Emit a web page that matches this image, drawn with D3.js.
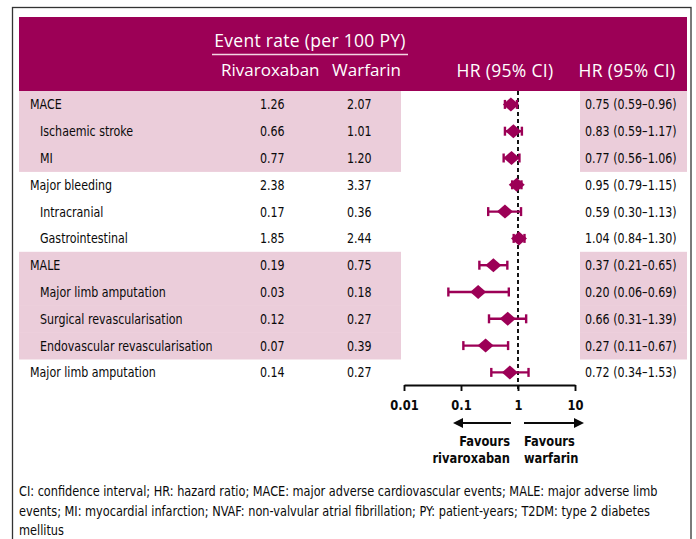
<!DOCTYPE html>
<html>
<head>
<meta charset="utf-8">
<script src="https://cdn.jsdelivr.net/npm/d3@7"></script>
<style>
  html, body { margin: 0; padding: 0; background: #fff; }
  svg { display: block; }
</style>
</head>
<body>
<svg id="chart" width="696" height="539"></svg>
<script>
// Outcome rows of the forest plot
const outcomes = [
  "MACE", "Ischaemic stroke", "MI",
  "Major bleeding", "Intracranial", "Gastrointestinal",
  "MALE", "Major limb amputation", "Surgical revascularisation", "Endovascular revascularisation",
  "Major limb amputation"
];
const indented = [false, true, true, false, true, true, false, true, true, true, false];
const shaded = [true, true, true, false, false, false, true, true, true, true, false];

// Event rates per 100 patient-years
const rivaroxabanRate = ["1.26", "0.66", "0.77", "2.38", "0.17", "1.85", "0.19", "0.03", "0.12", "0.07", "0.14"];
const warfarinRate    = ["2.07", "1.01", "1.20", "3.37", "0.36", "2.44", "0.75", "0.18", "0.27", "0.39", "0.27"];

// Hazard ratios with 95% confidence limits
const hr   = [0.75, 0.83, 0.77, 0.95, 0.59, 1.04, 0.37, 0.20, 0.66, 0.27, 0.72];
const ciLo = [0.59, 0.59, 0.56, 0.79, 0.30, 0.84, 0.21, 0.06, 0.31, 0.11, 0.34];
const ciHi = [0.96, 1.17, 1.06, 1.15, 1.13, 1.30, 0.65, 0.69, 1.39, 0.67, 1.53];

// Axis ticks
const tickValues = [0.01, 0.1, 1, 10];
const tickLabels = ["0.01", "0.1", "1", "10"];

const footnote = [
  "CI: confidence interval; HR: hazard ratio; MACE: major adverse cardiovascular events; MALE: major adverse limb",
  "events; MI: myocardial infarction; NVAF: non-valvular atrial fibrillation; PY: patient-years; T2DM: type 2 diabetes",
  "mellitus"
];

const MAGENTA = "#9c0056";
const PINK = "#ebcdda";
const INK = "#0a0a0a";
const FONT = "'DejaVu Sans Condensed', 'Liberation Sans Narrow', sans-serif";
const HEAD_FONT = "'Open Sans', 'Noto Sans', sans-serif";
const SX = 0.88; // horizontal squeeze for the condensed body face

const svg = d3.select("#chart").style("font-family", FONT);

// condensed text helper
function ctext(g, x, y, str, anchor = "start", sx = SX) {
  return g.append("text")
    .attr("transform", `translate(${x},${y}) scale(${sx},1)`)
    .attr("text-anchor", anchor)
    .text(str);
}

// frame
svg.append("rect").attr("x", 12.5).attr("y", 7.5).attr("width", 678.5).attr("height", 545)
  .attr("fill", "none").attr("stroke", "#333").attr("stroke-width", 1.3);

// header band
svg.append("rect").attr("x", 19).attr("y", 17).attr("width", 668).attr("height", 74).attr("fill", MAGENTA);

const header = svg.append("g").attr("fill", "#fff").style("font-family", HEAD_FONT).style("font-size", "17.5px");
header.append("text").attr("x", 310).attr("y", 47).attr("text-anchor", "middle")
  .style("letter-spacing", "0.3px").text("Event rate (per 100 PY)");
header.append("line").attr("x1", 212).attr("x2", 408).attr("y1", 54.5).attr("y2", 54.5)
  .attr("stroke", "#f3d6e3").attr("stroke-width", 1.5);
header.append("text").attr("x", 221).attr("y", 76).style("font-size", "17px").text("Rivaroxaban");
header.append("text").attr("x", 401).attr("y", 76).style("font-size", "17px").attr("text-anchor", "end").text("Warfarin");
header.append("text").attr("x", 505).attr("y", 77).attr("text-anchor", "middle")
  .style("letter-spacing", "0.3px").text("HR (95% CI)");
header.append("text").attr("x", 627).attr("y", 77).attr("text-anchor", "middle")
  .style("letter-spacing", "0.3px").text("HR (95% CI)");

// row layout
const rowTop = 91, rowH = 26.8;
const y = d3.scaleBand().domain(d3.range(outcomes.length))
  .range([rowTop, rowTop + rowH * outcomes.length]).paddingInner(0).paddingOuter(0);
const yc = i => y(i) + y.bandwidth() / 2;

// shaded groups
const bg = svg.append("g");
outcomes.forEach((d, i) => {
  if (!shaded[i]) return;
  bg.append("rect").attr("x", 19).attr("y", y(i)).attr("width", 382).attr("height", y.bandwidth() + 0.5).attr("fill", PINK);
  bg.append("rect").attr("x", 580).attr("y", y(i)).attr("width", 107).attr("height", y.bandwidth() + 0.5).attr("fill", PINK);
});

// table text
const body = svg.append("g").attr("fill", INK).style("font-size", "14px");
outcomes.forEach((d, i) => {
  const by = yc(i) + 5;
  ctext(body, indented[i] ? 40 : 30, by, d);
  ctext(body, 260, by, rivaroxabanRate[i]);
  ctext(body, 347, by, warfarinRate[i]);
  ctext(body, 585, by, `${hr[i].toFixed(2)} (${ciLo[i].toFixed(2)}\u2013${ciHi[i].toFixed(2)})`);
});

// forest plot
const x = d3.scaleLog().domain([0.01, 10]).range([404, 575]);
const axisY = 385;

svg.append("line").attr("x1", x(1)).attr("x2", x(1)).attr("y1", rowTop).attr("y2", axisY + 6)
  .attr("stroke", INK).attr("stroke-width", 1.9).attr("stroke-dasharray", "4,3");

const marks = svg.append("g").attr("stroke", MAGENTA).attr("fill", MAGENTA);
outcomes.forEach((d, i) => {
  const cy = yc(i);
  marks.append("line").attr("x1", x(ciLo[i])).attr("x2", x(ciHi[i])).attr("y1", cy).attr("y2", cy).attr("stroke-width", 2.4);
  [ciLo[i], ciHi[i]].forEach(v => {
    marks.append("line").attr("x1", x(v)).attr("x2", x(v)).attr("y1", cy - 4.5).attr("y2", cy + 4.5).attr("stroke-width", 2.4);
  });
  const cx = x(hr[i]);
  marks.append("path").attr("stroke", "none")
    .attr("d", `M${cx - 8},${cy} L${cx},${cy - 7} L${cx + 8},${cy} L${cx},${cy + 7} Z`);
});

// axis
const axis = d3.axisBottom(x).tickValues(tickValues).tickFormat((d, i) => tickLabels[i])
  .tickSizeInner(6).tickSizeOuter(0).tickPadding(9);
const ag = svg.append("g").attr("transform", `translate(0,${axisY})`).call(axis);
ag.select(".domain").attr("stroke", INK).attr("stroke-width", 1.9);
ag.selectAll(".tick line").attr("stroke", INK).attr("stroke-width", 1.9);
ag.selectAll(".tick text").attr("fill", INK).style("font-family", FONT)
  .style("font-size", "14.5px").style("font-weight", "bold")
  .attr("transform", `scale(${SX},1)`);

// direction arrows
const arrowY = 423;
const arrows = svg.append("g").attr("stroke", INK).attr("fill", INK);
arrows.append("line").attr("x1", x(1) - 7).attr("x2", 460).attr("y1", arrowY).attr("y2", arrowY).attr("stroke-width", 1.9);
arrows.append("path").attr("stroke", "none").attr("d", `M453,${arrowY} L463,${arrowY - 5} L463,${arrowY + 5} Z`);
arrows.append("line").attr("x1", x(1) + 6).attr("x2", 577).attr("y1", arrowY).attr("y2", arrowY).attr("stroke-width", 1.9);
arrows.append("path").attr("stroke", "none").attr("d", `M584,${arrowY} L574,${arrowY - 5} L574,${arrowY + 5} Z`);

const fav = svg.append("g").attr("fill", INK).style("font-size", "14.5px").style("font-weight", "bold");
ctext(fav, x(1) - 8, 446, "Favours", "end");
ctext(fav, x(1) - 8, 463, "rivaroxaban", "end");
ctext(fav, x(1) + 6, 446, "Favours");
ctext(fav, x(1) + 6, 463, "warfarin");

// footnote
const fn = svg.append("g").attr("fill", INK).style("font-size", "14px");
footnote.forEach((t, i) => ctext(fn, 19, 496 + i * 19.5, t, "start", 0.9));
</script>
</body>
</html>
